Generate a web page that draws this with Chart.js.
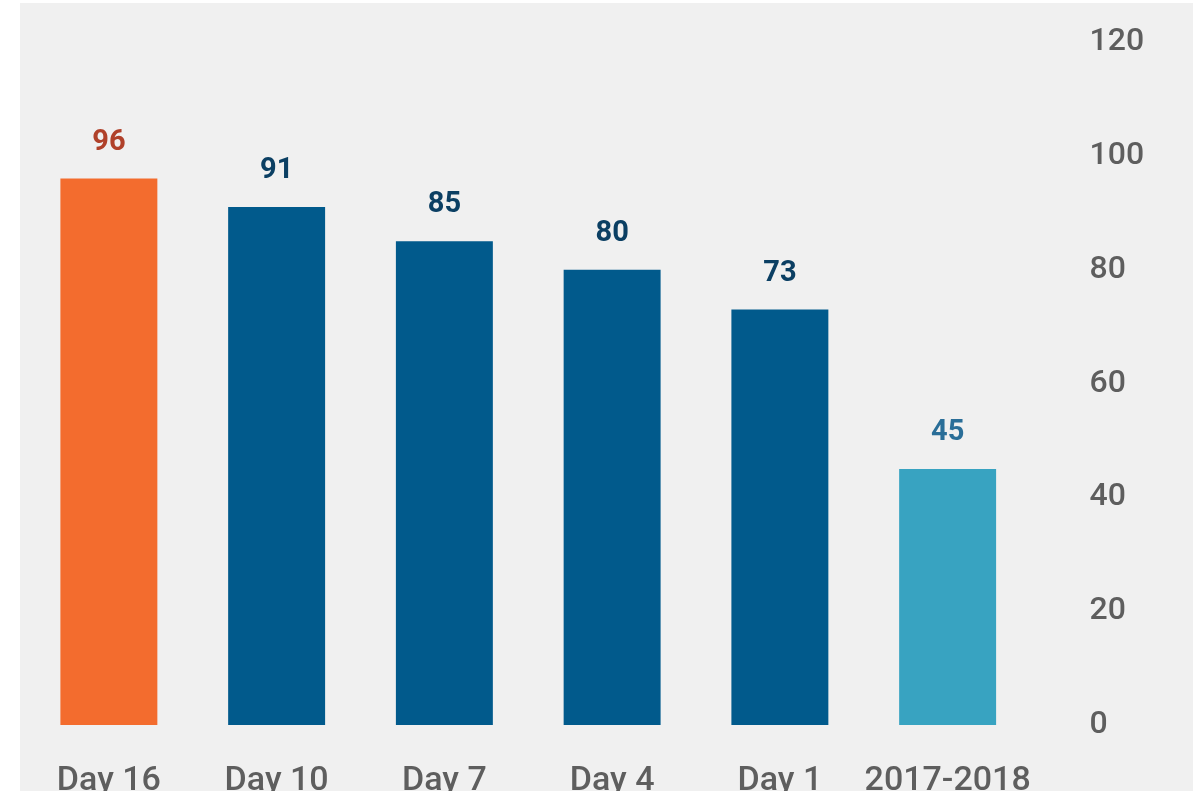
<!DOCTYPE html>
<html>
<head>
<meta charset="utf-8">
<script src="https://cdn.jsdelivr.net/npm/chart.js@4"></script>
<style>
    html, body { margin: 0; padding: 0; background: #ffffff; overflow: hidden; }
    #wrap { position: absolute; left: 20px; top: 3px; width: 1173px; height: 788px; background: #f0f0f0; }
</style>
</head>
<body>
<div id="wrap"><canvas id="chart" width="1173" height="788"></canvas></div>
<script>
const categories = ['Day 16', 'Day 10', 'Day 7', 'Day 4', 'Day 1', '2017-2018'];
const values = [96, 91, 85, 80, 73, 45];
const barColors = ['#f36c2e', '#015a8c', '#015a8c', '#015a8c', '#015a8c', '#38a3c1'];
const labelColors = ['#b0412a', '#0b3f63', '#0b3f63', '#0b3f63', '#0b3f63', '#2a6e98'];
const yTicks = [0, 20, 40, 60, 80, 100, 120];

const yFont = { family: 'Roboto, sans-serif', size: 32, weight: '500' };
const xFont = { family: 'Roboto, sans-serif', size: 34, weight: '500' };

// value labels above each bar
const valueLabels = {
    id: 'valueLabels',
    afterDatasetsDraw(chart) {
        const ctx = chart.ctx;
        const meta = chart.getDatasetMeta(0);
        ctx.save();
        ctx.font = 'bold 29px Roboto, sans-serif';
        ctx.textAlign = 'center';
        ctx.textBaseline = 'middle';
        meta.data.forEach((bar, i) => {
            ctx.fillStyle = labelColors[i];
            ctx.fillText(String(values[i]), bar.x, bar.y - 36);
        });
        ctx.restore();
    }
};

new Chart(document.getElementById('chart'), {
    type: 'bar',
    data: {
        labels: categories,
        datasets: [{
            data: values,
            backgroundColor: barColors,
            borderWidth: 0,
            barPercentage: 0.578,
            categoryPercentage: 1
        }]
    },
    options: {
        responsive: false,
        animation: false,
        layout: { padding: { left: 5, top: 39, right: 0, bottom: 0 } },
        plugins: {
            legend: { display: false },
            tooltip: { enabled: false }
        },
        scales: {
            x: {
                grid: { display: false, drawTicks: false },
                border: { display: false },
                ticks: { color: '#5e5e5e', font: xFont, padding: 36, maxRotation: 0, autoSkip: false },
                afterFit(scale) { scale.height = 66; }
            },
            y: {
                position: 'right',
                min: 0,
                max: 120,
                grid: { display: false, drawTicks: false },
                border: { display: false },
                afterBuildTicks(scale) { scale.ticks = yTicks.map(v => ({ value: v })); },
                ticks: { color: '#5e5e5e', font: yFont, padding: 58, crossAlign: 'near' },
                afterFit(scale) {
                    // tick padding is horizontal here, don't let it pad top/bottom
                    scale.width = 161.5;
                    scale.paddingTop = 0;
                    scale.paddingBottom = 0;
                }
            }
        }
    },
    plugins: [valueLabels]
});
</script>
</body>
</html>
